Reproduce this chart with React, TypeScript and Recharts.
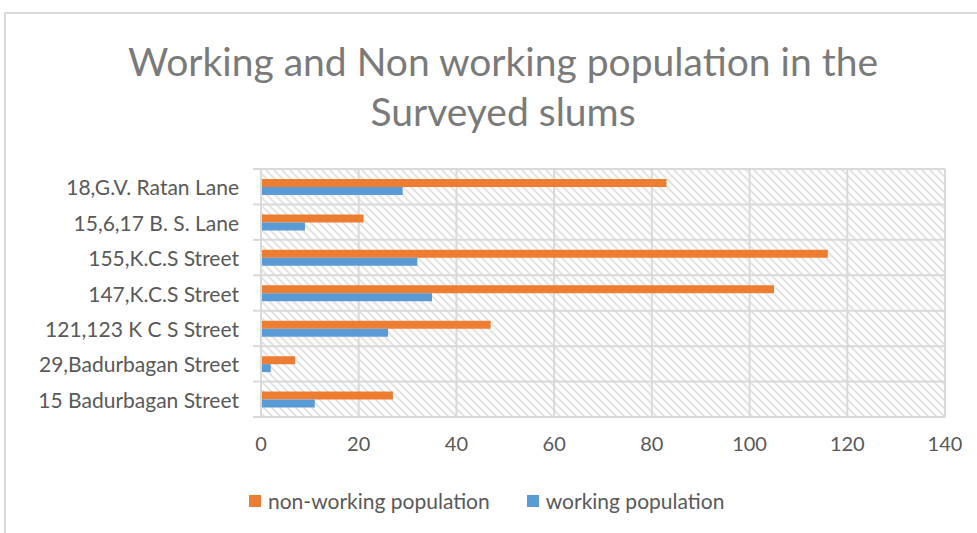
import { Bar, BarChart, CartesianGrid, Legend, XAxis, YAxis } from "recharts";

const categories = [
  "18,G.V. Ratan Lane",
  "15,6,17 B. S. Lane",
  "155,K.C.S Street",
  "147,K.C.S Street",
  "121,123 K C S Street",
  "29,Badurbagan Street",
  "15 Badurbagan Street",
];
const nonWorking = [83, 21, 116, 105, 47, 7, 27];
const working = [29, 9, 32, 35, 26, 2, 11];
const xTicks = [0, 20, 40, 60, 80, 100, 120, 140];

const data = categories.map((name, i) => ({
  name,
  nonWorking: nonWorking[i],
  working: working[i],
}));

const FONT = "Lato, 'Open Sans', sans-serif";
const GRID = "#d9d9d9";
const TEXT = "#595959";

function CategoryTick(props: any) {
  const { x, y, payload, index, visibleTicksCount } = props;
  const half = payload.offset ?? 17.7;
  const axisX = x + 22;
  const isLast = index === visibleTicksCount - 1;
  return (
    <g>
      <line x1={axisX - 8} x2={axisX} y1={y - half} y2={y - half} stroke={GRID} strokeWidth={2} />
      {isLast && (
        <line x1={axisX - 8} x2={axisX} y1={y + half} y2={y + half} stroke={GRID} strokeWidth={2} />
      )}
      <text x={x} y={y} textAnchor="end" dominantBaseline="central" fill={TEXT} fontSize={21} fontFamily={FONT}>
        {payload.value}
      </text>
    </g>
  );
}

function LegendContent({ payload }: any) {
  return (
    <div style={{ display: "flex", alignItems: "center", marginLeft: 249, fontFamily: FONT, fontSize: 21, color: TEXT }}>
      {(payload || []).map((p: any) => (
        <div key={p.value} style={{ display: "flex", alignItems: "center", marginRight: 37 }}>
          <span style={{ width: 12, height: 12, background: p.color, marginRight: 7, display: "inline-block" }} />
          <span>{p.value}</span>
        </div>
      ))}
    </div>
  );
}

export default function App() {
  return (
    <div style={{ position: "absolute", left: 0, top: 0, width: 977, height: 533, overflow: "hidden", background: "#fff" }}>
      <div
        style={{
          position: "absolute",
          left: 4,
          top: 12,
          width: 998,
          height: 600,
          border: `2px solid ${GRID}`,
          boxSizing: "border-box",
        }}
      />
      <div
        style={{
          position: "absolute",
          left: 4,
          top: 36,
          width: 998,
          textAlign: "center",
          fontFamily: FONT,
          fontSize: 39,
          lineHeight: "50px",
          color: "#7a7a7a",
        }}
      >
        Working and Non working population in the
        <br />
        Surveyed slums
      </div>
      <div style={{ position: "absolute", left: 0, top: 0 }}>
        <BarChart
          width={977}
          height={533}
          data={data}
          layout="vertical"
          barSize={8}
          barGap={0}
          margin={{ top: 169, right: 32, bottom: 76, left: 0 }}
        >
          <defs>
            <pattern id="hatch" patternUnits="userSpaceOnUse" width={8} height={8}>
              <rect width={8} height={8} fill="#fff" />
              <path d="M-2,-2 L10,10 M-2,6 L2,10 M6,-2 L10,2" stroke="#e3e3e3" strokeWidth={2} />
            </pattern>
          </defs>
          <CartesianGrid
            fill="url(#hatch)"
            fillOpacity={1}
            stroke={GRID}
            strokeWidth={2}
            horizontalCoordinatesGenerator={({ offset }: any) =>
              categories.concat([""]).map((_, i) => offset.top + (i * offset.height) / categories.length)
            }
          />
          <XAxis
            type="number"
            domain={[0, 140]}
            ticks={xTicks}
            axisLine={false}
            tickLine={false}
            tickSize={0}
            tickMargin={20}
            height={40}
            tick={{ fill: TEXT, fontSize: 20, fontFamily: FONT }}
          />
          <YAxis
            type="category"
            dataKey="name"
            width={261}
            axisLine={{ stroke: GRID, strokeWidth: 2 }}
            tickLine={false}
            tickSize={8}
            tickMargin={14}
            tick={<CategoryTick />}
            interval={0}
          />
          <Legend
            verticalAlign="middle"
            align="center"
            wrapperStyle={{ top: 488, left: 0, width: 977 }}
            content={<LegendContent />}
          />
          <Bar dataKey="nonWorking" name="non-working population" fill="#ED7D31" isAnimationActive={false} />
          <Bar dataKey="working" name="working population" fill="#5B9BD5" isAnimationActive={false} />
        </BarChart>
      </div>
    </div>
  );
}
